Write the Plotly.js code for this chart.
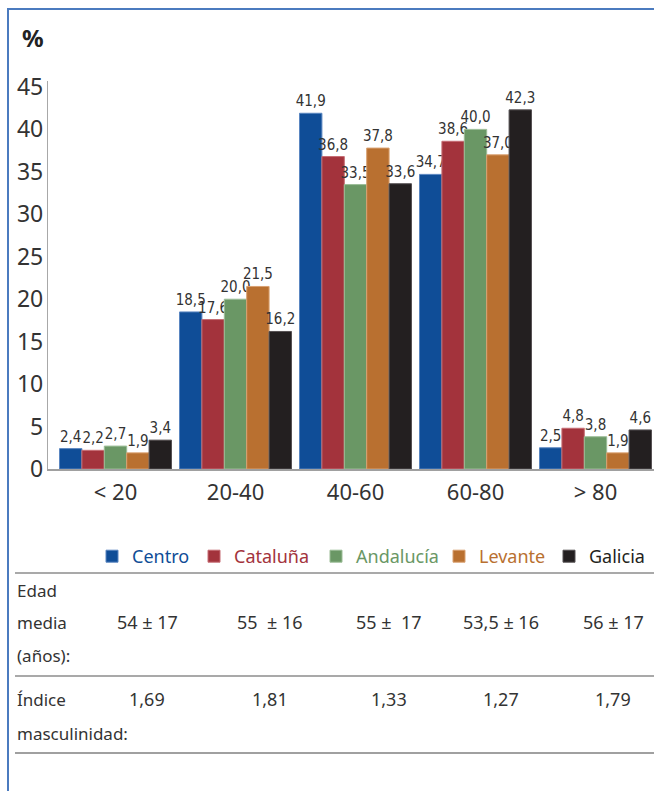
<!DOCTYPE html>
<html>
<head>
<meta charset="utf-8">
<script src="https://cdn.plot.ly/plotly-3.0.1.min.js"></script>
<style>
  html, body { margin: 0; padding: 0; background: #fff; }
  #chart { width: 654px; height: 791px; }
</style>
</head>
<body>
<div id="chart"></div>
<script>
// Age groups (x categories)
const gruposEdad = ['< 20', '20-40', '40-60', '60-80', '> 80'];

// Regions (series)
const regiones = ['Centro', 'Cataluña', 'Andalucía', 'Levante', 'Galicia'];

// Percentage of patients per age group, one array per region
const centro    = [2.4, 18.5, 41.9, 34.7, 2.5];
const cataluna  = [2.2, 17.6, 36.8, 38.6, 4.8];
const andalucia = [2.7, 20.0, 33.5, 40.0, 3.8];
const levante   = [1.9, 21.5, 37.8, 37.0, 1.9];
const galicia   = [3.4, 16.2, 33.6, 42.3, 4.6];

// Summary rows under the chart, one entry per region
const edadMedia = ['54 ± 17', '55  ± 16', '55 ±  17', '53,5 ± 16', '56 ± 17'];
const indiceMasculinidad = ['1,69', '1,81', '1,33', '1,27', '1,79'];

// Y axis ticks
const yTicks = [0, 5, 10, 15, 20, 25, 30, 35, 40, 45];

const series = [centro, cataluna, andalucia, levante, galicia];
const colores = ['#0f4d97', '#a3333c', '#6a9765', '#b97030', '#231f20'];
const bordes  = ['#5a86c0', '#c66d74', '#9cbd97', '#d9a070', '#555052'];
// legend entry widths (px) so the entries keep their spacing on one row
const anchoLeyenda = [57, 77, 78, 65, 55];

// Plot area geometry (pixels)
const W = 654, H = 791;
const ML = 48, MR = 0, MT = 81, MB = 322;
const PW = W - ML - MR, PH = H - MT - MB;
const px = x => (x - ML) / PW;
const py = y => (MT + PH - y) / PH;

const FONT = '"Noto Sans", "Open Sans", sans-serif';
const NARROW = '"Liberation Sans Narrow", "DejaVu Sans Condensed", sans-serif';

const traces = regiones.map((r, i) => ({
  type: 'bar',
  name: '<span style="color:' + colores[i] + '">' + r + '</span>',
  legendwidth: anchoLeyenda[i],
  x: gruposEdad,
  y: series[i],
  marker: { color: colores[i], line: { color: bordes[i], width: 1 } },
  texttemplate: '%{y:.1f}',
  textposition: 'outside',
  constraintext: 'none',
  cliponaxis: false,
  textfont: { family: NARROW, size: 15, color: '#333' },
  hoverinfo: 'skip'
}));

// Summary table texts
const annotations = [
  { x: px(20), y: py(38), text: '<b>%</b>', font: { size: 24, color: '#222' } , xanchor: 'left' },
  { x: px(15), y: py(590), text: 'Edad', xanchor: 'left' },
  { x: px(15), y: py(622), text: 'media', xanchor: 'left' },
  { x: px(15), y: py(655), text: '(años):', xanchor: 'left' },
  { x: px(15), y: py(699), text: 'Índice', xanchor: 'left' },
  { x: px(15), y: py(733), text: 'masculinidad:', xanchor: 'left' }
];
const colCentros = [147, 270, 389, 501, 613];
edadMedia.forEach((t, i) => annotations.push({
  x: px(colCentros[i]), y: py(622), text: t.replace(/ /g, '\u00a0'), xanchor: 'center', font: { size: 18, color: '#333', family: FONT }
}));
indiceMasculinidad.forEach((t, i) => annotations.push({
  x: px(colCentros[i]), y: py(699), text: t, xanchor: 'center', font: { size: 18, color: '#333', family: FONT }
}));
annotations.forEach(a => {
  a.xref = 'paper'; a.yref = 'paper'; a.showarrow = false; a.yanchor = 'middle';
  a.font = Object.assign({ family: FONT, size: 17, color: '#333' }, a.font || {});
});

const shapes = [
  // frame
  { type: 'rect', xref: 'paper', yref: 'paper', x0: px(8), x1: px(720), y0: py(9), y1: py(900),
    line: { color: '#4b7bbf', width: 2 }, fillcolor: 'rgba(0,0,0,0)' },
  // table rules
  { type: 'line', xref: 'paper', yref: 'paper', x0: px(15), x1: px(660), y0: py(573), y1: py(573), line: { color: '#8c8c8c', width: 1.5 } },
  { type: 'line', xref: 'paper', yref: 'paper', x0: px(15), x1: px(660), y0: py(676), y1: py(676), line: { color: '#8c8c8c', width: 1.5 } },
  { type: 'line', xref: 'paper', yref: 'paper', x0: px(15), x1: px(660), y0: py(753), y1: py(753), line: { color: '#a0a0a0', width: 2 } }
];

const layout = {
  width: W, height: H,
  margin: { l: ML, r: MR, t: MT, b: MB, pad: 0 },
  paper_bgcolor: '#fff', plot_bgcolor: '#fff',
  separators: ',.',
  barmode: 'group',
  bargap: 0.067,
  bargroupgap: 0,
  font: { family: FONT, color: '#333' },
  showlegend: true,
  legend: {
    orientation: 'h', x: px(92), xanchor: 'left', y: py(538), yanchor: 'top',
    font: { family: FONT, size: 18 }, bgcolor: 'rgba(0,0,0,0)', itemwidth: 30,
    traceorder: 'normal'
  },
  xaxis: {
    type: 'category', range: [-0.5625, 4.4875],
    showline: true, linecolor: '#a0a0a0', linewidth: 1.5,
    showgrid: false, zeroline: false, ticks: '',
    tickfont: { family: FONT, size: 22, color: '#333' },
    ticklabelstandoff: 3
  },
  yaxis: {
    range: [0, 45.7], tickvals: yTicks,
    showline: true, linecolor: '#a8a8a8', linewidth: 1.2,
    showgrid: false, zeroline: false, ticks: '',
    tickfont: { family: FONT, size: 23, color: '#333' },
    ticklabelstandoff: -1
  },
  annotations: annotations,
  shapes: shapes
};

Plotly.newPlot('chart', traces, layout, { staticPlot: true, displayModeBar: false });
</script>
</body>
</html>
